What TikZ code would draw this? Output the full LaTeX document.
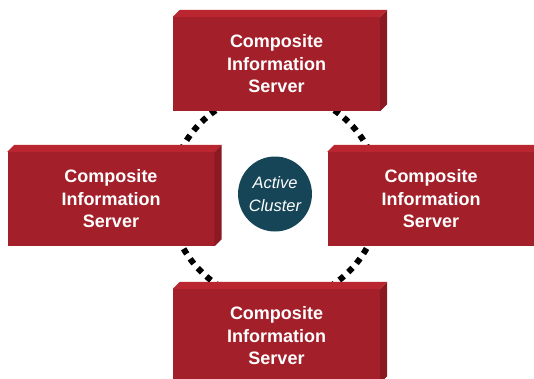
\documentclass[tikz,border=0pt]{standalone}
\usepackage{fontspec}
\setmainfont{Liberation Sans}
\usepackage{tikz}
\usetikzlibrary{shapes.geometric}

\definecolor{srvfront}{RGB}{163,31,41}
\definecolor{srvtop}{RGB}{186,38,48}
\definecolor{srvside}{RGB}{138,25,33}
\definecolor{clusterfill}{RGB}{22,69,88}

\begin{document}
\begin{tikzpicture}[x=1pt,y=-1pt,
  server/.style={fill=srvfront, minimum width=207pt, minimum height=94pt,
    inner sep=0pt, align=center, text=white,
    font=\fontsize{18}{22.5}\selectfont\bfseries},
  cluster/.style={ellipse, fill=clusterfill, minimum width=67pt, minimum height=75pt,
    inner sep=0pt, align=center, text=white,
    font=\fontsize{16.5}{23}\selectfont\itshape}]

\useasboundingbox (0,0) rectangle (534,378);

% ring behind the servers
\coordinate (ring) at (275,197);
\draw [line width=6pt, dash pattern=on 6pt off 6pt] (ring) circle (105pt);

% servers
\node [server] (S1) at (276.5,64) {Composite\\Information\\Server};
\node [server] (S2) at (111,199) {Composite\\Information\\Server};
\node [server] (S3) at (431,199) {Composite\\Information\\Server};
\node [server] (S4) at (276.5,336) {Composite\\Information\\Server};

\foreach \s in {S1,S2,S3,S4} {
  \fill [srvtop] (\s.north west) -- ++(7,-7) -- ([xshift=7pt,yshift=7pt]\s.north east) -- (\s.north east) -- cycle;
  \fill [srvside] (\s.north east) -- ++(7,-7) -- ([xshift=7pt,yshift=7pt]\s.south east) -- (\s.south east) -- cycle;
}

\node [cluster] (C) at (275,194) {Active\\Cluster};

\end{tikzpicture}
\end{document}
